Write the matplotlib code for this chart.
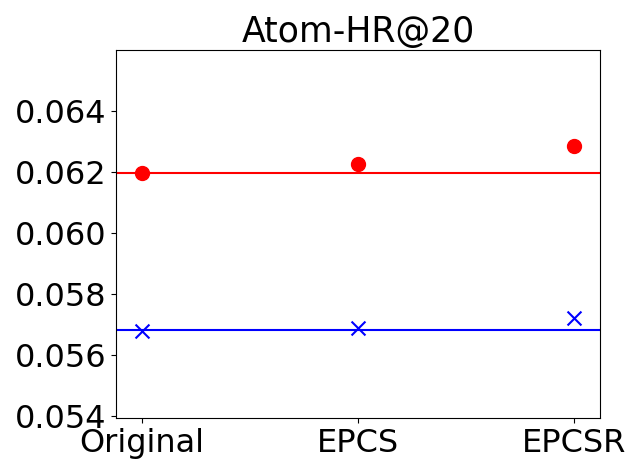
import matplotlib
matplotlib.use("Agg")
import matplotlib.pyplot as plt

categories = ["Original", "EPCS", "EPCSR"]
red_values = [0.06195, 0.06227, 0.06284]
blue_values = [0.05679, 0.05688, 0.05722]
red_baseline = 0.06197
blue_baseline = 0.05682

fig = plt.figure(figsize=(6.4, 4.73), dpi=100)
ax = fig.add_axes([116/640, 1 - 418/473, (600-116)/640, (418-50)/473])

x = list(range(len(categories)))
ax.scatter(x, red_values, color="red", marker="o", s=100, zorder=3)
ax.scatter(x, blue_values, color="blue", marker="x", s=100, zorder=3)
ax.axhline(red_baseline, color="red", lw=1.5)
ax.axhline(blue_baseline, color="blue", lw=1.5)

ax.set_xlim(-0.12, 2.12)
ax.set_ylim(min(blue_values) * 0.95, max(red_values) * 1.05)
ax.set_xticks(x)
ax.set_xticklabels(categories)
ax.set_yticks([0.054, 0.056, 0.058, 0.060, 0.062, 0.064])
ax.set_yticklabels(["0.054", "0.056", "0.058", "0.060", "0.062", "0.064"])
ax.tick_params(labelsize=23)
ax.set_title("Atom-HR@20", fontsize=25)

fig.savefig("out.png", dpi=100)
